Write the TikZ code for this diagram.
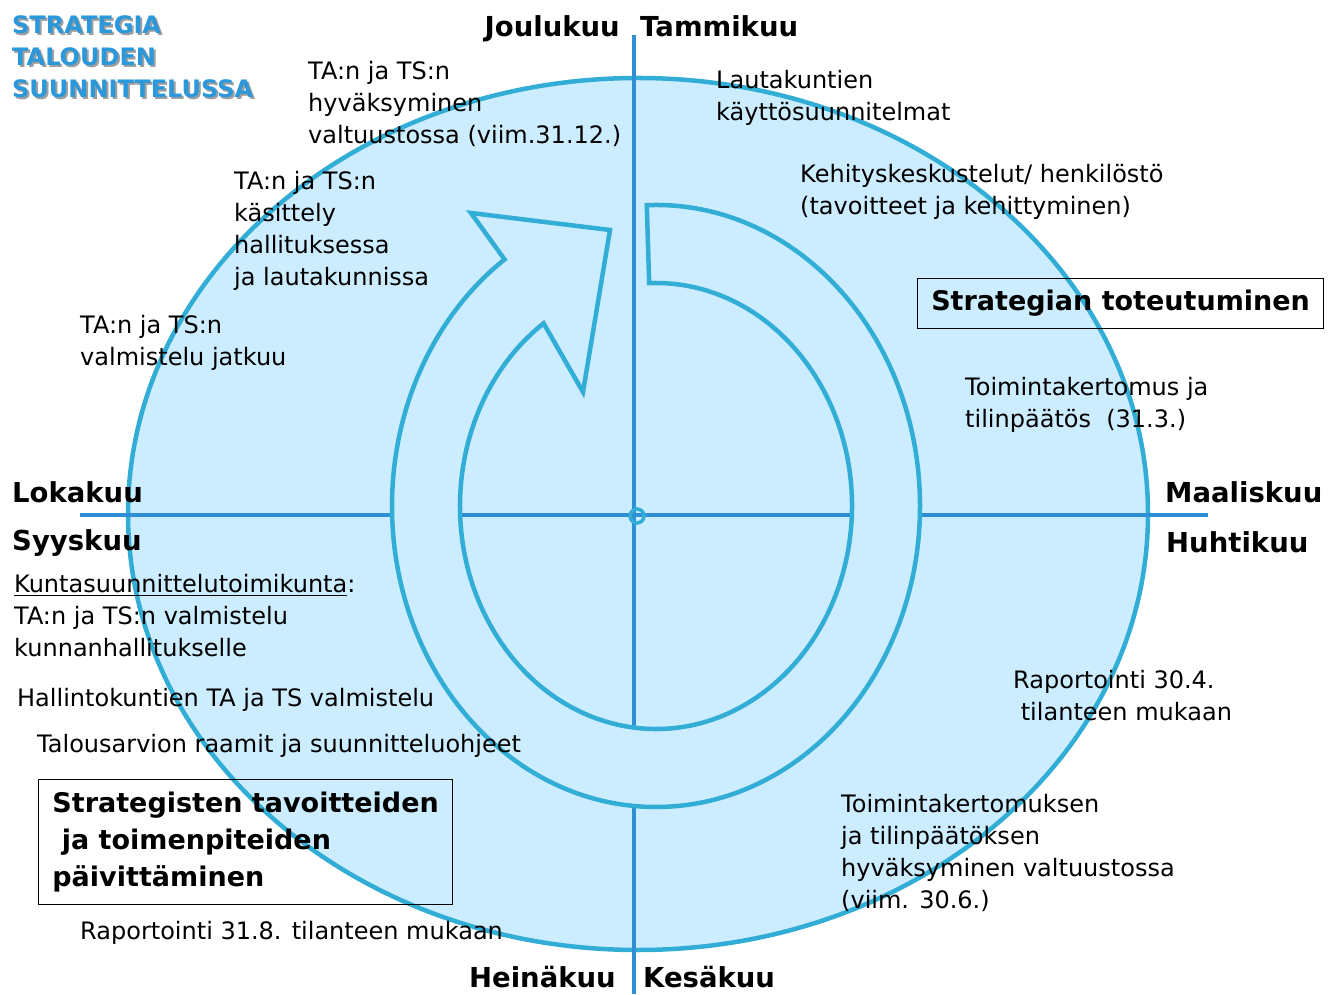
\documentclass[tikz,border=0pt]{standalone}
\usepackage{fontspec}
\setmainfont{DejaVu Sans}
\usetikzlibrary{calc}
\definecolor{fillblue}{HTML}{CCECFF}
\definecolor{ringblue}{HTML}{31ADD6}
\definecolor{axisblue}{HTML}{2E8FD6}
\definecolor{titleblue}{HTML}{2A98DA}
\tikzset{
  txt/.style={anchor=base west,inner sep=0pt,align=left,
    font=\fontsize{24}{32}\selectfont},
  month/.style={anchor=base west,inner sep=0pt,
    font=\fontsize{27.5}{33}\selectfont\bfseries},
  title/.style={anchor=base west,inner sep=0pt,align=left,text=titleblue,
    font=\fontsize{24}{32}\selectfont\bfseries},
  goal/.style={draw,line width=1.2pt,anchor=north west,inner sep=0pt,align=left,
    font=\fontsize{27}{37}\selectfont\bfseries},
}
\begin{document}
\begin{tikzpicture}[x=1pt,y=1pt]
  \useasboundingbox (0,0) rectangle (1336,994);

  % vuosikello
  \fill[fillblue] (638,480) ellipse [x radius=510pt,y radius=436pt];
  \draw[ringblue,line width=4.5pt] (638,480) ellipse [x radius=510pt,y radius=436pt];
  \draw[axisblue,line width=3.5pt] (634,959) -- (634,0);
  \draw[axisblue,line width=3.5pt] (80,479) -- (1208,479);

  % kiertava nuoli
  \coordinate (c) at (656,488);
  \draw[ringblue,line width=4.5pt,fill=fillblue]
    ($(c)+(92:264pt and 301pt)$)
      arc[start angle=92,end angle=-235,x radius=264pt,y radius=301pt]
    -- (471,781) -- (610,764) -- (583,602)
    -- ($(c)+(-235:196pt and 223pt)$)
      arc[start angle=-235,end angle=92,x radius=196pt,y radius=223pt]
    -- cycle;
  \draw[ringblue,line width=3.5pt] (637,478) circle (7pt);

  % otsikko
  \node[title,text=gray!75] (shadow) at (14,894) {STRATEGIA\\TALOUDEN\\SUUNNITTELUSSA};
  \node[title] (title) at (12,896) {STRATEGIA\\TALOUDEN\\SUUNNITTELUSSA};

  % kuukaudet
  \node[month,anchor=base east] (dec) at (620,957) {Joulukuu};
  \node[month] (jan) at (640,957) {Tammikuu};
  \node[month] (mar) at (1165,491) {Maaliskuu};
  \node[month] (apr) at (1166,441) {Huhtikuu};
  \node[month,anchor=base east] (jul) at (616,7) {Heinäkuu};
  \node[month] (jun) at (643,7) {Kesäkuu};
  \node[month] (oct) at (12,491) {Lokakuu};
  \node[month] (sep) at (12,443) {Syyskuu};

  % tapahtumat (base = viimeisen rivin perusviiva)
  \node[txt] (hyv) at (308,850) {TA:n ja TS:n\\hyväksyminen\\valtuustossa (viim.31.12.)};
  \node[txt] (ksu) at (716,873) {Lautakuntien\\käyttösuunnitelmat};
  \node[txt] (keh) at (800,779) {Kehityskeskustelut/ henkilöstö\\(tavoitteet ja kehittyminen)};
  \node[goal,minimum width=406pt,minimum height=50pt] (toteutus) at (917,716)
    {Strategian toteutuminen};
  \node[txt] (tpaatos) at (965,566) {Toimintakertomus ja\\tilinpäätös\ \ (31.3.)};
  \node[txt] (rap1) at (1013,273) {Raportointi 30.4.\\\ tilanteen mukaan};
  \node[txt] (tphyv) at (841,86) {Toimintakertomuksen\\ja tilinpäätöksen\\hyväksyminen valtuustossa\\(viim. 30.6.)};
  \node[txt] (kas) at (234,708) {TA:n ja TS:n\\käsittely\\hallituksessa\\ja lautakunnissa};
  \node[txt] (jatk) at (80,628) {TA:n ja TS:n\\valmistelu jatkuu};
  \node[txt] (ksto) at (14,337) {\underline{Kuntasuunnittelutoimikunta}:\\TA:n ja TS:n valmistelu\\kunnanhallitukselle};
  \node[txt] (hkval) at (17,287) {Hallintokuntien TA ja TS valmistelu};
  \node[txt] (raamit) at (37,241) {Talousarvion raamit ja suunnitteluohjeet};
  \node[goal,minimum width=414pt,minimum height=125pt] (paiv) at (38,215)
    {Strategisten tavoitteiden\\\ ja toimenpiteiden\\päivittäminen};
  \node[txt] (rap2) at (80,55) {Raportointi 31.8. tilanteen mukaan};
\end{tikzpicture}
\end{document}
